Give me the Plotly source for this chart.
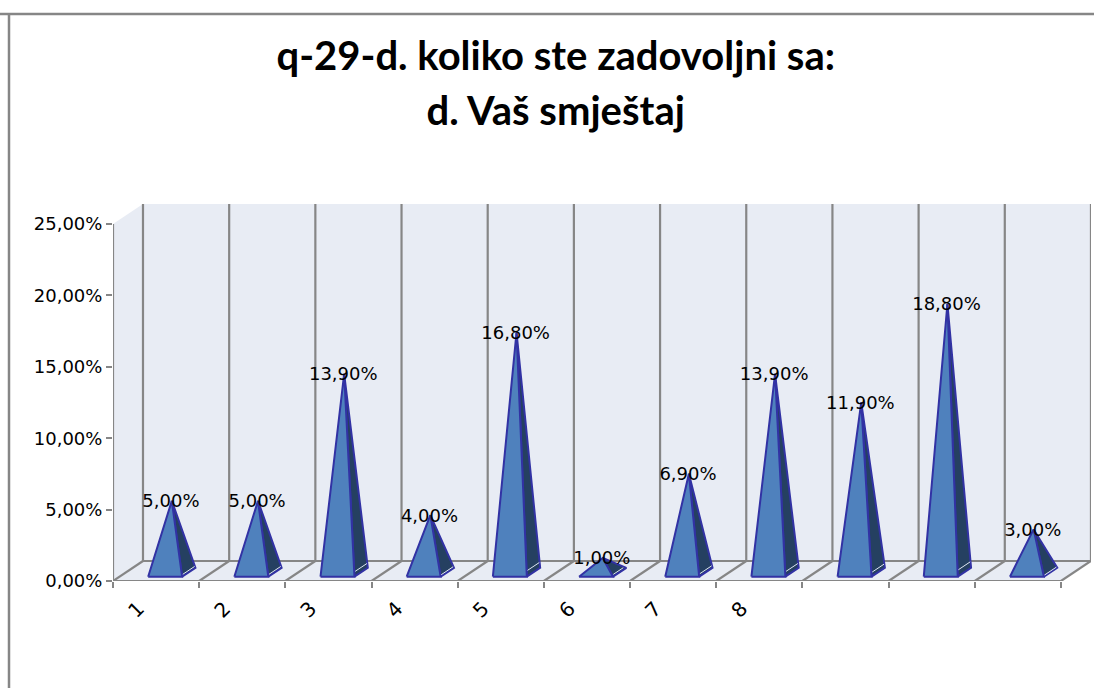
import plotly.graph_objects as go

categories = ["1", "2", "3", "4", "5", "6", "7", "8", "", "", ""]
values = [5.0, 5.0, 13.9, 4.0, 16.8, 1.0, 6.9, 13.9, 11.9, 18.8, 3.0]
y_ticks = [0, 5, 10, 15, 20, 25]
title_lines = ["q-29-d. koliko ste zadovoljni sa:", "d. Vaš smještaj"]


def pct(v):
    return f"{v:.2f}".replace(".", ",") + "%"


GRID = "#868686"
WALL = "#e8ecf4"
FRONT = "#4f81bd"
SIDE = "#254061"
EDGE = "#3232a4"
FONT = "DejaVu Sans"

# oblique-box geometry in axis units (categories / percent)
DX = 0.348      # depth shift in x for the full floor depth
DY = 1.40       # depth shift in y for the full floor depth
Y_TOP = 25
D_FRONT, D_BACK = 0.215, 0.66
HALF_W = 0.197
CENTER_SHIFT = 0.03
n = len(values)
x0 = -0.5
x1 = n - 0.5


def P(x, depth, y):
    return x + DX * depth, y + DY * depth


def poly(points, fill, line=None, width=0):
    xs = [p[0] for p in points] + [points[0][0]]
    ys = [p[1] for p in points] + [points[0][1]]
    return go.Scatter(x=xs, y=ys, mode="lines", fill="toself", fillcolor=fill,
                      line=dict(color=line or fill, width=width if line else 0),
                      hoverinfo="skip", showlegend=False, cliponaxis=False)


def seg(a, b, color=GRID, width=2.2):
    return go.Scatter(x=[a[0], b[0]], y=[a[1], b[1]], mode="lines",
                      line=dict(color=color, width=width),
                      hoverinfo="skip", showlegend=False, cliponaxis=False)


fig = go.Figure()

# walls and floor
fig.add_trace(poly([P(x0, 1, 0), P(x1, 1, 0), P(x1, 1, Y_TOP), P(x0, 1, Y_TOP)], WALL))
fig.add_trace(poly([P(x0, 0, 0), P(x0, 1, 0), P(x0, 1, Y_TOP), P(x0, 0, Y_TOP)], WALL))
fig.add_trace(poly([P(x0, 0, 0), P(x1, 0, 0), P(x1, 1, 0), P(x0, 1, 0)], WALL))

# grid on back wall and floor
for i in range(n + 1):
    e = x0 + i
    fig.add_trace(seg(P(e, 1, 0), P(e, 1, Y_TOP)))
    fig.add_trace(seg(P(e, 0, 0), P(e, 1, 0)))
fig.add_trace(seg(P(x0, 1, 0), P(x1, 1, 0)))
fig.add_trace(seg(P(x0, 0, 0), P(x1, 0, 0)))
fig.add_trace(seg(P(x0, 0, 0), P(x0, 0, Y_TOP)))

# pyramids
label_x, label_y, label_text = [], [], []
for i, v in enumerate(values):
    c = i + CENTER_SHIFT
    fl = P(c - HALF_W, D_FRONT, 0)
    fr = P(c + HALF_W, D_FRONT, 0)
    br = P(c + HALF_W, D_BACK, 0)
    apex = P(c, (D_FRONT + D_BACK) / 2, v)
    fig.add_trace(poly([fr, br, apex], SIDE, EDGE, 2))
    # thin white highlight inside the side face
    cx = (fr[0] + br[0] + apex[0]) / 3
    cy = (fr[1] + br[1] + apex[1]) / 3
    k = 0.93 if v > 2 else 0.75
    inset = [(cx + (p[0] - cx) * k, cy + (p[1] - cy) * k) for p in (fr, br)]
    fig.add_trace(seg(inset[0], inset[1], "#dfe6f2", 1))
    fig.add_trace(poly([fl, fr, apex], FRONT, EDGE, 2))
    label_x.append(apex[0] - 0.01)
    label_y.append(apex[1] - 0.14)
    label_text.append(pct(v))

fig.add_trace(go.Scatter(x=label_x, y=label_y, mode="text", text=label_text,
                         textposition="middle center",
                         textfont=dict(family=FONT, size=18, color="#000000"),
                         hoverinfo="skip", showlegend=False, cliponaxis=False))

idx = list(range(n))
fig.update_layout(
    width=1094, height=688, autosize=False,
    margin=dict(l=113, r=3, t=203, b=107),
    paper_bgcolor="#ffffff", plot_bgcolor="rgba(0,0,0,0)",
    showlegend=False,
    title=dict(
        text="<br>".join(f"<span style='font-size:40px'><b>{t}</b></span>" for t in title_lines),
        font=dict(family="Lato", size=42, color="#000000"),
        x=0.508, xanchor="center", y=0.898, yanchor="middle",
    ),
    xaxis=dict(
        range=[x0, x0 + (1091 - 113) / 86.18],
        tickmode="array", tickvals=[i - 0.205 for i in idx], ticktext=categories,
        tickangle=-45, ticks="", showgrid=False, zeroline=False, showline=False,
        ticklabelstandoff=11,
        tickfont=dict(family=FONT, size=20, color="#000000"),
        minor=dict(tickmode="array", tickvals=[x0 + i for i in range(n + 1)],
                   ticks="outside", ticklen=6, tickwidth=2, tickcolor=GRID, showgrid=False),
    ),
    yaxis=dict(
        range=[0, (581 - 203) / 14.28],
        tickmode="array", tickvals=y_ticks, ticktext=[pct(t) for t in y_ticks],
        ticks="outside", ticklen=6, tickwidth=2, tickcolor=GRID,
        showgrid=False, zeroline=False, showline=False,
        tickfont=dict(family=FONT, size=18, color="#000000"),
    ),
    shapes=[
        dict(type="line", xref="paper", yref="paper", x0=-113 / 978, x1=(1094 - 113) / 978,
             y0=(581 - 14) / 378, y1=(581 - 14) / 378, line=dict(color=GRID, width=2.5)),
        dict(type="line", xref="paper", yref="paper", x0=-104 / 978, x1=-104 / 978,
             y0=(581 - 688) / 378, y1=(581 - 14) / 378, line=dict(color=GRID, width=2.5)),
    ],
)

fig.write_html("out.html", config={"displayModeBar": False},
               post_script="document.body.style.margin='0';")
